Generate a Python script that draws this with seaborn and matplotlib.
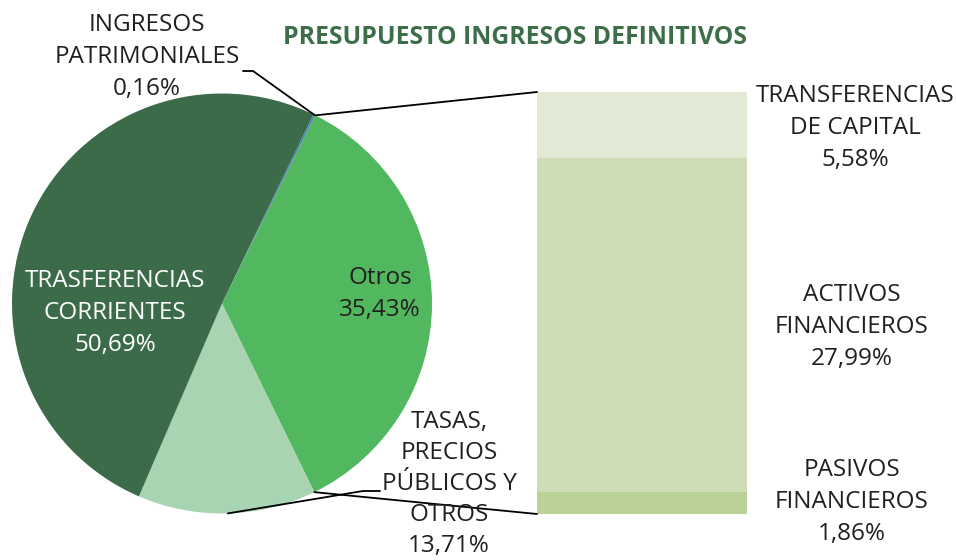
import numpy as np
import matplotlib
matplotlib.use("Agg")
import matplotlib.pyplot as plt
from matplotlib.patches import ConnectionPatch
import seaborn as sns

# -------------------------
# DATA
# -------------------------
pie_labels = ["INGRESOS\nPATRIMONIALES", "Otros", "TASAS,\nPRECIOS\nPÚBLICOS Y\nOTROS", "TRASFERENCIAS\nCORRIENTES"]
pie_values = [0.16, 35.43, 13.71, 50.69]
pie_colors = ["#4f81bd", "#52b85f", "#a8d4b1", "#3c6b4a"]

# breakdown of "Otros", from bottom to top
bar_labels = ["PASIVOS\nFINANCIEROS", "ACTIVOS\nFINANCIEROS", "TRANSFERENCIAS\nDE CAPITAL"]
bar_values = [1.86, 27.99, 5.58]
bar_colors = ["#bad198", "#cfddb6", "#e2e9d4"]

title = "PRESUPUESTO INGRESOS DEFINITIVOS"


def pct(v):
    return f"{v:.2f}%".replace(".", ",")


sns.set_theme(style="white")
plt.rcParams["font.family"] = ["Open Sans", "DejaVu Sans"]
txt = "#231f20"

W, H = 956, 560
fig = plt.figure(figsize=(W / 100, H / 100), dpi=100)

# -------------------------
# PIE
# -------------------------
ax_pie = fig.add_axes([12 / W, (H - 513.5) / H, 420 / W, 420 / H])
start = 64.2
ax_pie.pie(pie_values, colors=pie_colors, startangle=start, counterclock=False,
           radius=1, wedgeprops=dict(linewidth=0))
ax_pie.set_xlim(-1, 1)
ax_pie.set_ylim(-1, 1)
ax_pie.set_aspect("equal")
ax_pie.axis("off")

# -------------------------
# STACKED BAR (drawn as overlapping cumulative bars)
# -------------------------
ax_bar = fig.add_axes([537 / W, (H - 514) / H, 210 / W, 422 / H])
cum = np.cumsum(bar_values)
for i in range(len(bar_values) - 1, -1, -1):
    sns.barplot(x=["Otros"], y=[cum[i]], color=bar_colors[i], width=1,
                linewidth=0, saturation=1, ax=ax_bar)
ax_bar.set_xlim(-0.5, 0.5)
ax_bar.set_ylim(0, cum[-1])
ax_bar.axis("off")

# connector lines from "Otros" wedge to the bar
a_top = np.deg2rad(start - pie_values[0] / 100 * 360)
a_bot = np.deg2rad(start - (pie_values[0] + pie_values[1]) / 100 * 360)
for ang, yb in [(a_top, cum[-1]), (a_bot, 0)]:
    con = ConnectionPatch(xyA=(np.cos(ang), np.sin(ang)), coordsA=ax_pie.transData,
                          xyB=(-0.5, yb), coordsB=ax_bar.transData,
                          color="black", linewidth=1.3)
    fig.add_artist(con)

# -------------------------
# TEXT (pixel positions)
# -------------------------
def ftext(x, y, s, ls=1.42, **kw):
    fig.text(x / W, 1 - y / H, s, ha="center", va="center", linespacing=ls, **kw)


fs = 17.5
ftext(515, 37, title, fontsize=17.8, fontweight="bold", color="#3d6e4a")
ftext(147, 57, pie_labels[0] + "\n" + pct(pie_values[0]), fontsize=fs, color=txt)
ftext(380, 294, pie_labels[1] + "\n" + pct(pie_values[1]), fontsize=fs, color=txt)
ftext(449, 484, pie_labels[2] + "\n" + pct(pie_values[2]), ls=1.38, fontsize=fs, color=txt)
ftext(115, 313, pie_labels[3] + "\n" + pct(pie_values[3]), fontsize=fs, color="white")
ftext(855, 128, bar_labels[2] + "\n" + pct(bar_values[2]), fontsize=fs, color=txt)
ftext(852, 327, bar_labels[1] + "\n" + pct(bar_values[1]), fontsize=fs, color=txt)
ftext(852, 502, bar_labels[0] + "\n" + pct(bar_values[0]), fontsize=fs, color=txt)

# leader lines for the outside pie labels
a_ip = np.deg2rad(start - pie_values[0] / 200 * 360)
a_ts = np.deg2rad(-88.4)
to_fig = fig.transFigure.inverted()
for ang, pts in [(a_ip, [(253, 71), (243, 71)]), (a_ts, [(363, 491), (380, 491)])]:
    x0, y0 = to_fig.transform(ax_pie.transData.transform((np.cos(ang), np.sin(ang))))
    xs = [x0] + [q[0] / W for q in pts]
    ys = [y0] + [1 - q[1] / H for q in pts]
    fig.add_artist(plt.Line2D(xs, ys, transform=fig.transFigure, color="black", linewidth=1.3))

plt.savefig("out.png", dpi=100)
plt.close()
